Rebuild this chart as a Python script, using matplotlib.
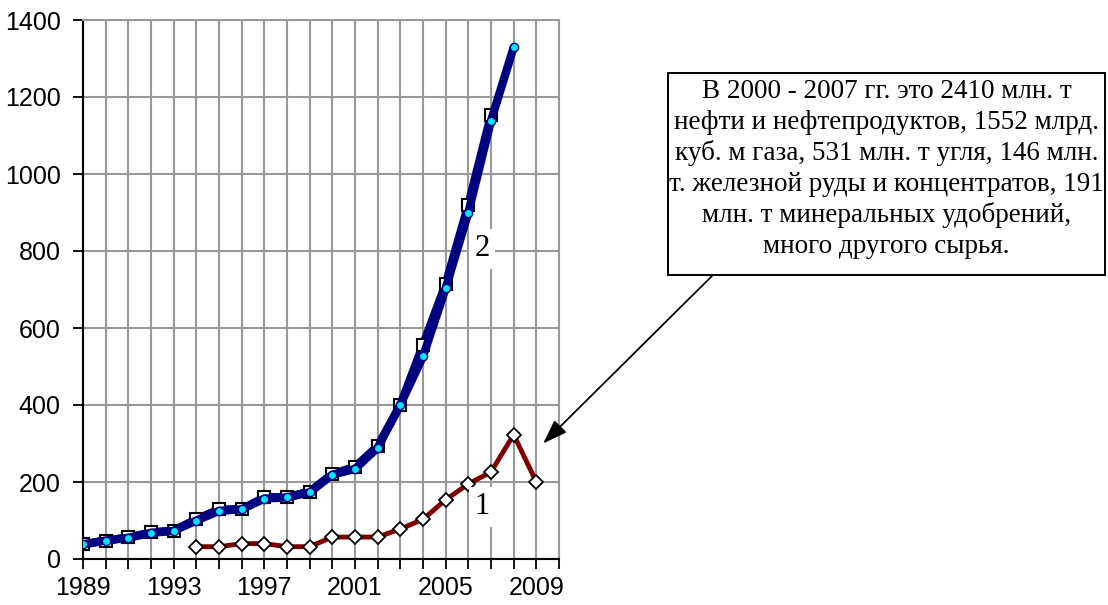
import matplotlib
matplotlib.use("Agg")
import matplotlib.pyplot as plt
from matplotlib.patches import Rectangle

years_sq = list(range(1989, 2008))
values_sq = [38, 48, 56, 69, 74, 103, 129, 129, 160, 161, 175, 221, 239, 293, 400, 556, 714, 920, 1153]

years_dot = list(range(1989, 2009))
values_dot = [38, 48, 55, 68, 73, 100, 125, 129, 157, 160, 173, 219, 234, 289, 401, 526, 703, 900, 1138, 1329]

years_red = list(range(1994, 2010))
values_red = [32, 32, 40, 40, 32, 32, 57, 57, 57, 78, 103, 154, 195, 226, 323, 200]

xtick_labels = [1989, 1993, 1997, 2001, 2005, 2009]
yticks = [0, 200, 400, 600, 800, 1000, 1200, 1400]

note_lines = ["В 2000 - 2007 гг. это 2410 млн. т",
              "нефти и нефтепродуктов, 1552 млрд.",
              "куб. м газа, 531 млн. т угля, 146 млн.",
              "т. железной руды и концентратов, 191",
              "млн. т минеральных удобрений,",
              "много другого сырья."]

W, H = 1108, 605
fig = plt.figure(figsize=(W / 100, H / 100), dpi=100)
ax = fig.add_axes([83 / W, 1 - 559 / H, (559 - 83) / W, (559 - 20) / H])

ax.set_xlim(1989, 2010)
ax.set_ylim(0, 1400)
ax.set_xticks(range(1989, 2011))
ax.set_xticklabels([str(y) if y in xtick_labels else "" for y in range(1989, 2011)])
ax.set_yticks(yticks)
ax.set_yticklabels([str(v) for v in yticks])
for lab in ax.get_xticklabels() + ax.get_yticklabels():
    lab.set_fontfamily("Liberation Sans")
    lab.set_fontsize(18)
ax.tick_params(axis="both", direction="out", length=7, width=1.3, color="black")
ax.tick_params(axis="y", pad=9)
ax.tick_params(axis="x", pad=5)
ax.grid(True, color="#999999", linewidth=1.5, zorder=0)
ax.set_axisbelow(True)
for s in ["top", "right"]:
    ax.spines[s].set_color("#999999")
    ax.spines[s].set_linewidth(1.5)
for s in ["left", "bottom"]:
    ax.spines[s].set_color("black")
    ax.spines[s].set_linewidth(1.5)

ax.plot(years_sq, values_sq, color="#000080", linewidth=6, solid_capstyle="round",
        marker="s", markersize=9, markerfacecolor="white", markeredgecolor="black",
        markeredgewidth=1.5, zorder=3)
ax.plot(years_dot, values_dot, color="#000080", linewidth=6, solid_capstyle="round",
        zorder=3)
ax.plot(years_dot, values_dot, linestyle="none", marker="o", markersize=6,
        markerfacecolor="#00E5FF", markeredgecolor="#000080", markeredgewidth=1.0, zorder=4)
ax.plot(years_red, values_red, color="#800000", linewidth=3.5, solid_capstyle="round",
        marker="D", markersize=7.5, markerfacecolor="white", markeredgecolor="black",
        markeredgewidth=1.3, zorder=3)

ax.text(2006.6, 806, "2", fontfamily="Liberation Serif", fontsize=22,
        ha="center", va="center", zorder=5,
        bbox=dict(facecolor="white", edgecolor="none", pad=4))
ax.text(2006.6, 136, "1", fontfamily="Liberation Serif", fontsize=22,
        ha="center", va="center", zorder=5,
        bbox=dict(facecolor="white", edgecolor="none", pad=4))

# annotation box
bx0, by0, bx1, by1 = 668, 73, 1105, 275
fig.patches.append(Rectangle((bx0 / W, 1 - by1 / H), (bx1 - bx0) / W, (by1 - by0) / H,
                             transform=fig.transFigure, facecolor="white",
                             edgecolor="black", linewidth=1.4))
for i, line in enumerate(note_lines):
    fig.text((bx0 + bx1) / 2 / W, 1 - (98 + 31 * i) / H, line,
             fontfamily="Liberation Serif", fontsize=19.5, ha="center", va="baseline")

ax.annotate("", xy=(2009.3, 300), xycoords="data",
            xytext=(712 / W, 1 - 276 / H), textcoords="figure fraction",
            arrowprops=dict(arrowstyle="-|>,head_length=1.0,head_width=0.35",
                            color="black", lw=1.3,
                            mutation_scale=15, shrinkA=0, shrinkB=0),
            annotation_clip=False)

fig.savefig("out.png", dpi=100)
